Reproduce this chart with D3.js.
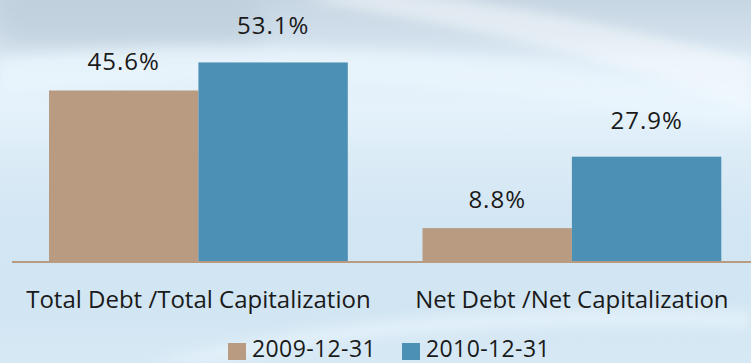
<!DOCTYPE html>
<html>
<head>
<meta charset="utf-8">
<script src="https://cdn.jsdelivr.net/npm/d3@7/dist/d3.min.js"></script>
<style>
  html, body { margin: 0; padding: 0; background: #d6e7f3; }
  svg { display: block; }
  text { font-family: "Open Sans", "Noto Sans", sans-serif; fill: #1a1a1a; }
</style>
</head>
<body>
<svg id="chart" width="751" height="363"></svg>
<script>
// Capitalization ratios, in percent
const categories = ["Total Debt /Total Capitalization", "Net Debt /Net Capitalization"];
const seriesNames = ["2009-12-31", "2010-12-31"];
const values2009 = [45.6, 8.8];
const values2010 = [53.1, 27.9];
const valueLabels2009 = ["45.6%", "8.8%"];
const valueLabels2010 = ["53.1%", "27.9%"];

const seriesValues = [values2009, values2010];
const seriesLabels = [valueLabels2009, valueLabels2010];
const colors = ["#b89b81", "#4c91b5"];
const labelGap = [20, 28];

const W = 751, H = 363;
const svg = d3.select("#chart");
const defs = svg.append("defs");

// soft sky-blue backdrop
const bg = defs.append("linearGradient").attr("id", "bg").attr("x1", 0).attr("y1", 0).attr("x2", 0).attr("y2", 1);
[[0, "#c7d6e3"], [0.1, "#d0dfeb"], [0.17, "#e0edf7"], [0.3, "#e5f2fb"], [0.42, "#dcecf7"],
 [0.6, "#d3e6f3"], [0.85, "#d1e5f2"], [1, "#d7e9f5"]].forEach(([o, c]) =>
  bg.append("stop").attr("offset", o).attr("stop-color", c));
defs.append("filter").attr("id", "soft").attr("x", "-20%").attr("y", "-50%").attr("width", "140%").attr("height", "200%")
  .append("feGaussianBlur").attr("stdDeviation", 6);
defs.append("filter").attr("id", "softer").attr("x", "-20%").attr("y", "-50%").attr("width", "140%").attr("height", "200%")
  .append("feGaussianBlur").attr("stdDeviation", 14);

svg.append("rect").attr("width", W).attr("height", H).attr("fill", "url(#bg)");
const haze = svg.append("g").attr("pointer-events", "none");
haze.append("rect").attr("x", 0).attr("y", -10).attr("width", 260).attr("height", 55)
  .attr("fill", "#b9c9d6").attr("opacity", 0.55).attr("filter", "url(#softer)");
haze.append("path").attr("d", "M300,0 C420,20 560,40 751,110 L751,60 C600,20 480,0 380,-10 Z")
  .attr("fill", "#ffffff").attr("opacity", 0.45).attr("filter", "url(#soft)");
haze.append("path").attr("d", "M0,60 C200,35 420,45 751,90 L751,130 C460,80 220,70 0,95 Z")
  .attr("fill", "#eef8fe").attr("opacity", 0.55).attr("filter", "url(#soft)");
haze.append("path").attr("d", "M150,363 C300,320 520,300 751,310 L751,330 C540,322 330,335 220,363 Z")
  .attr("fill", "#eaf5fc").attr("opacity", 0.6).attr("filter", "url(#soft)");

// scales
const x0 = d3.scaleBand().domain(categories).range([11.65, 758.65]).paddingInner(0.2).paddingOuter(0.1);
const x1 = d3.scaleBand().domain(seriesNames).range([0, x0.bandwidth()]);
const y = d3.scaleLinear().domain([0, 69.8]).range([261, 0]);

// bars
const groups = svg.append("g").selectAll("g").data(categories).join("g")
  .attr("transform", d => `translate(${x0(d)},0)`);
const cells = (c, i) => seriesNames.map((s, k) => ({ s, k, v: seriesValues[k][i], label: seriesLabels[k][i] }));
groups.selectAll("rect").data(cells).join("rect")
  .attr("x", d => x1(d.s))
  .attr("y", d => y(d.v))
  .attr("width", x1.bandwidth())
  .attr("height", d => y(0) - y(d.v))
  .attr("fill", d => colors[d.k]);
groups.selectAll("text.val").data(cells).join("text").attr("class", "val")
  .attr("x", d => x1(d.s) + x1.bandwidth() / 2)
  .attr("y", d => y(d.v) - labelGap[d.k])
  .attr("text-anchor", "middle")
  .style("font-size", "24px")
  .style("letter-spacing", "1px")
  .text(d => d.label);

// category axis
const xAxis = svg.append("g").attr("transform", `translate(0,${y(0)})`)
  .call(d3.axisBottom(x0).tickSize(0).tickPadding(0));
xAxis.select(".domain").attr("d", `M12,1H${W}`).attr("stroke", "#b89b81").attr("stroke-width", 2);
xAxis.selectAll(".tick text")
  .attr("y", 47).attr("dy", 0)
  .style("font-size", "24px").style("fill", "#1a1a1a")
  .style("font-family", "'Open Sans', sans-serif");

// legend
const legend = svg.append("g").attr("transform", "translate(228,0)");
const items = legend.selectAll("g").data(seriesNames).join("g")
  .attr("transform", (d, i) => `translate(${i * 174},0)`);
items.append("rect").attr("x", 0).attr("y", 343).attr("width", 18).attr("height", 17)
  .attr("fill", (d, i) => colors[i]);
items.append("text").attr("x", 24).attr("y", 357).style("font-size", "23px").style("letter-spacing", "0.4px").text(d => d);
</script>
</body>
</html>
